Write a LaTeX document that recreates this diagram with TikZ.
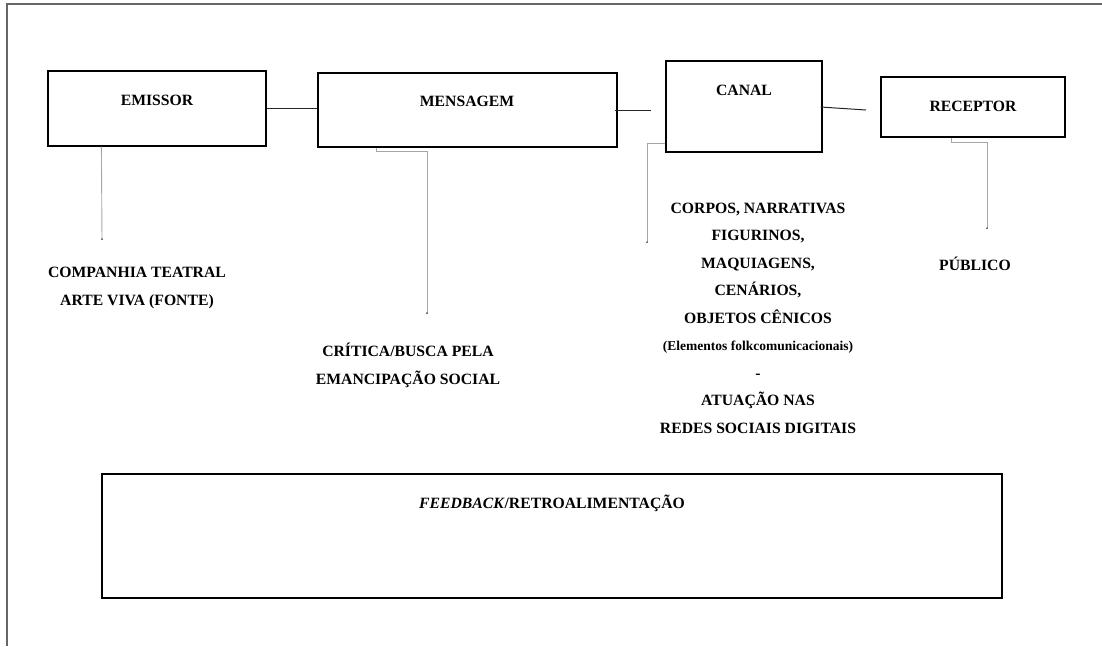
\documentclass[tikz,border=0pt]{standalone}
\usepackage{fontspec}
\setmainfont{Liberation Serif}[BoldFont={Liberation Serif Bold}, ItalicFont={Liberation Serif Italic}, BoldItalicFont={Liberation Serif Bold Italic}]
\usetikzlibrary{calc,arrows.meta}
\begin{document}
\begin{tikzpicture}[x=1pt, y=-1pt, font={\fontsize{15.7}{28}\selectfont\bfseries},
		box/.style={draw=black, line width=1.2pt, inner sep=0pt},
		lbl/.style={inner sep=0pt, anchor=base},
		txt/.style={inner sep=0pt, align=center},
		link/.style={draw=black!85, line width=1pt},
		lead/.style={draw=black!35, line width=0.9pt, -{Circle[length=1.6pt, color=black!70]}},
		frame/.style={draw=black!60, line width=1.6pt}]
		\useasboundingbox (0,0) rectangle (1102,646);
		\draw[frame] (1102,4) -- (7,4) -- (7,646);
	
		\node[box, minimum width=218, minimum height=75] (emissor) at (157,108.5) {};
		\node[box, minimum width=299, minimum height=74] (mensagem) at (467.5,110) {};
		\node[box, minimum width=156, minimum height=91] (canal) at (744,106.5) {};
		\node[box, minimum width=184, minimum height=60] (receptor) at (973,107) {};
		\node[box, minimum width=900, minimum height=124] (feedback) at (552,536) {};
	
		\node[lbl] (emissor-t) at (157,105) {EMISSOR}; \node[lbl] (mensagem-t) at (467,106) {MENSAGEM};
		\node[lbl] (canal-t) at (744,95) {CANAL}; \node[lbl] (receptor-t) at (973,111) {RECEPTOR};
		\node[lbl] (feedback-t) at (552,508) {\textit{FEEDBACK}/RETROALIMENTAÇÃO};
	
		\node[txt] (fonte) at (137,287.5) {COMPANHIA TEATRAL\\ARTE VIVA (FONTE)};
		\node[txt] (critica) at (408,365) {CRÍTICA/BUSCA PELA\\EMANCIPAÇÃO SOCIAL};
		\node[txt, font={\fontsize{15.7}{27.5}\selectfont\bfseries}] (elementos) at (758,318) {CORPOS, NARRATIVAS\\FIGURINOS,\\MAQUIAGENS,\\CENÁRIOS,\\OBJETOS CÊNICOS\\{\fontsize{13.5}{27.5}\selectfont(Elementos folkcomunicacionais)}\\-\\ATUAÇÃO NAS\\REDES SOCIAIS DIGITAIS};
		\node[lbl] (publico) at (975,270) {PÚBLICO};
	
		\coordinate (mc-end) at (651,110); \coordinate (cr-end) at (866,110);
		\draw[link] (emissor.east) -- (emissor.east -| mensagem.west);
		\draw[link] ($(mensagem.east)+(-3,0)$) -- (mc-end);
		\draw[link] ($(canal.east)+(-2,0.5)$) -- (cr-end);
	
		\coordinate (e-end) at (102,240); \coordinate (m-end) at (427,314); \coordinate (c-end) at (647,243); \coordinate (r-end) at (987,229);
		\draw[lead] ($(emissor.south west)+(54,0)$) -- (e-end);
		\draw[lead] ($(mensagem.south west)+(59,0)$) -- ++(0,4) -| (m-end);
		\draw[lead] ($(canal.south west)+(0,-9)$) -| (c-end);
		\draw[lead] ($(receptor.south west)+(71,0)$) -- ++(0,5) -| (r-end);
	\end{tikzpicture}
\end{document}
